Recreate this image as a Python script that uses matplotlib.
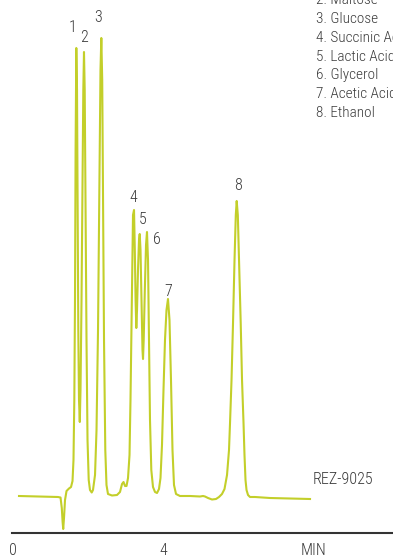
import matplotlib
matplotlib.use("Agg")
import matplotlib.pyplot as plt

# Trace (time in min, signal in mV)
time_min = [0.16, 0.72, 1.20, 1.267, 1.301, 1.323, 1.339, 1.36, 1.387, 1.427,
            1.493, 1.547, 1.587, 1.613, 1.635, 1.653, 1.669, 1.688, 1.707, 1.723,
            1.741, 1.76, 1.781, 1.80, 1.827, 1.853, 1.875, 1.893, 1.912, 1.933,
            1.96, 1.987, 2.019, 2.053, 2.099, 2.133, 2.187, 2.227, 2.267, 2.301,
            2.333, 2.355, 2.379, 2.40, 2.427, 2.461, 2.493, 2.533, 2.64, 2.773,
            2.853, 2.907, 2.947, 2.987, 3.027, 3.067, 3.107, 3.133, 3.168, 3.20,
            3.227, 3.248, 3.269, 3.288, 3.307, 3.333, 3.36, 3.379, 3.40, 3.427,
            3.453, 3.467, 3.485, 3.515, 3.547, 3.573, 3.60, 3.627, 3.653, 3.688,
            3.733, 3.787, 3.84, 3.893, 3.933, 3.973, 4.013, 4.053, 4.093, 4.133,
            4.173, 4.213, 4.253, 4.293, 4.347, 4.453, 4.72, 4.987, 5.067, 5.12,
            5.20, 5.307, 5.413, 5.493, 5.573, 5.64, 5.707, 5.76, 5.787, 5.827,
            5.867, 5.907, 5.941, 5.965, 5.995, 6.027, 6.072, 6.107, 6.147, 6.173,
            6.20, 6.227, 6.267, 6.32, 6.453, 6.853, 7.387, 7.92]
signal_mv = [0, -0.5, -1, -1.5, -12, -26, -33, -22, -4, 5,
             7.5, 9, 15, 36, 96, 196, 346, 448, 406, 296,
             166, 96, 74, 106, 196, 316, 406, 444, 406, 296,
             156, 56, 16, 6, 3.5, 6, 21, 66, 166, 296,
             426, 458, 416, 296, 156, 46, 11, 2, 0.5, 1,
             4, 12, 14, 10, 10, 18, 41, 96, 196, 281,
             286, 246, 196, 168, 186, 226, 256, 262, 246, 196,
             146, 137, 156, 206, 251, 264, 236, 156, 76, 26,
             9, 4, 3, 7, 18, 51, 106, 156, 186, 197,
             176, 116, 46, 11, 2, 0, 0, -0.5, 0, -0.5,
             -2, -3.5, -3, -1, 2, 7, 21, 46, 73, 116,
             173, 236, 281, 295, 281, 236, 173, 116, 73, 41,
             16, 6, 1, -1, -1, -2, -2.5, -3]

# Peak number labels
peak_labels = ["1", "2", "3", "4", "5", "6", "7", "8"]
label_t = [1.60, 1.893, 2.267, 3.20, 3.467, 3.84, 4.133, 6.0]
label_s = [468, 459, 479, 298, 277, 257, 204, 311]

# entries 2-8 of the peak list (the first one sits above the page)
compounds = ["2. Maltose", "3. Glucose", "4. Succinic Acid",
             "5. Lactic Acid", "6. Glycerol", "7. Acetic Acid", "8. Ethanol"]

tick_pos = [0, 4, 8]
tick_text = ["0", "4", "MIN"]

plt.rcParams['font.family'] = ['Roboto Condensed', 'DejaVu Sans']
plt.rcParams['font.weight'] = 'light'
text_color = "#3a3a3a"
trace_color = "#c3cf2a"

fig = plt.figure(figsize=(3.93, 5.58), dpi=100)
ax = fig.add_axes([12 / 393, 25 / 558, 381 / 393, 533 / 558])

ax.plot(time_min, signal_mv, color=trace_color, linewidth=1.5, solid_joinstyle="round")

for lab, t, s in zip(peak_labels, label_t, label_s):
    ax.text(t, s, lab, ha="center", va="center", fontsize=11.5, color=text_color)

ax.text(8.0, 16, "REZ-9025", ha="left", va="center", fontsize=11.5, color=text_color)

ax.set_xlim(-0.0267, 10.133)
ax.set_ylim(-37, 496)

for side in ["top", "right", "left"]:
    ax.spines[side].set_visible(False)
ax.spines["bottom"].set_color("#333333")
ax.spines["bottom"].set_linewidth(1.5)
ax.set_yticks([])
ax.set_xticks(tick_pos)
ax.set_xticklabels(tick_text)
ax.tick_params(axis="x", length=0, pad=7.5, labelsize=11.5, labelcolor=text_color)

# compound list in the top right corner (runs off the page, as in the original)
for i, name in enumerate(compounds):
    baseline_px = 4.3 + 18.8 * i
    fig.text(316 / 393, 1 - baseline_px / 558, name, ha="left", va="baseline",
             fontsize=11, color=text_color)

fig.savefig("out.png", dpi=100)
